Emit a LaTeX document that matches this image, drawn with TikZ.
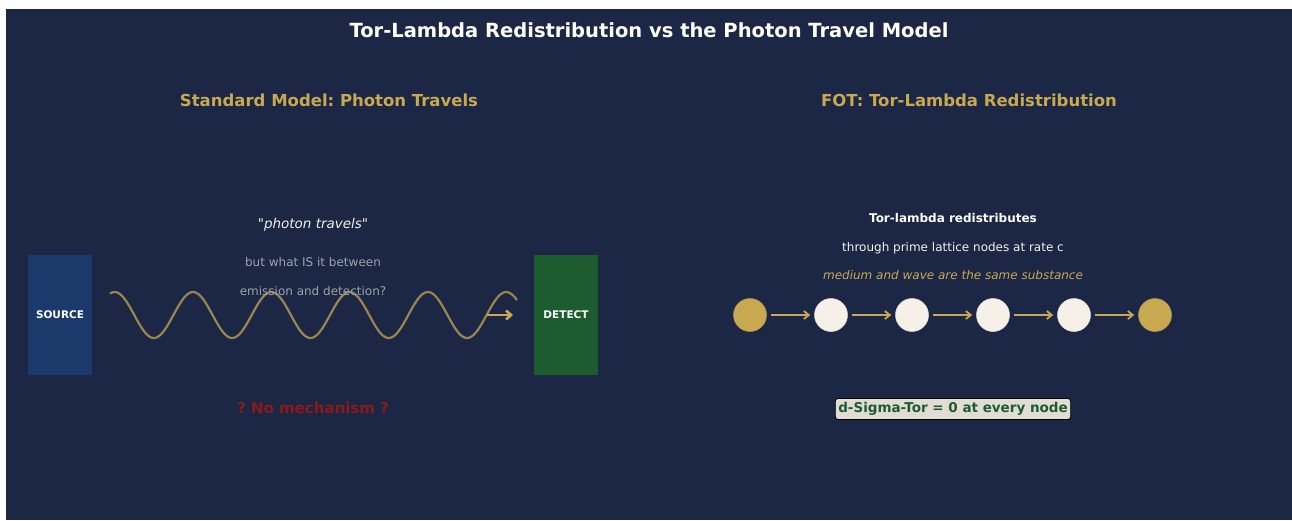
\documentclass[tikz,border=0pt]{standalone}
\usepackage{fontspec}
\setmainfont{DejaVu Sans}[Ligatures=TeXOff]
\usepackage{tikz}
\usetikzlibrary{positioning, arrows.meta}
\frenchspacing

\definecolor{navybg}{HTML}{1B2744}
\definecolor{gold}{HTML}{C8A951}
\definecolor{wavegold}{HTML}{9A8550}
\definecolor{cream}{HTML}{F5F0E8}
\definecolor{srcblue}{HTML}{1B3A6B}
\definecolor{detgreen}{HTML}{1D5C2E}
\definecolor{softgray}{HTML}{9EA1A8}
\definecolor{darkred}{HTML}{8B1A1A}
\definecolor{boxbeige}{HTML}{E1DDD4}

\begin{document}
\begin{tikzpicture}[x=1pt, y=-1pt, node distance=81pt,
  lattice node/.style={circle,draw=cream!85!gray,line width=0.5pt,fill=cream,minimum size=33pt,inner sep=0pt},
  end node/.style={lattice node,fill=gold,draw=gold!90!black},
  device/.style={minimum width=64pt,minimum height=120pt,inner sep=0pt,text=white,font=\bfseries\fontsize{10.5}{12}\selectfont},
  heading/.style={text=gold,font=\bfseries\fontsize{16.5}{19}\selectfont},
  note/.style={font=\fontsize{12}{14}\selectfont}]

\useasboundingbox (0,0) rectangle (1292,520);
\fill[white] (0,0) rectangle (1292,520);
\fill[navybg] (6,9) rectangle (1292,520);

% titles
\node[text=white,font=\bfseries\fontsize{19.5}{23}\selectfont] (title) at (649,30) {Tor-Lambda Redistribution vs the Photon Travel Model};
\node[heading] (left head) at (329,100) {Standard Model: Photon Travels};
\node[heading] (right head) at (969,100) {FOT: Tor-Lambda Redistribution};

% left panel
\node[device,fill=srcblue] (source) at (60,315) {SOURCE};
\node[device,fill=detgreen] (detect) at (566,315) {DETECT};

\draw[wavegold,line width=2.2pt] plot[domain=110:517,samples=200,smooth] (\x,{315-23*cos((\x-193)*4.5977)});

\coordinate (wave end) at (487,315);
\coordinate (wave tip) at (513,315);
\draw[gold,line width=2.6pt,-{Straight Barb[length=5pt,width=9pt]}] (wave end) -- (wave tip);

\node[note,text=cream,font=\fontsize{13.5}{15}\selectfont] (quote) at (313,225) {"\textit{photon travels}"};
\node[note,text=softgray] (doubt1) at (313,262) {but what IS it between};
\node[note,text=softgray] (doubt2) at (313,291) {emission and detection?};
\node[text=darkred,font=\bfseries\fontsize{15}{17}\selectfont] (nomech) at (313,408) {? No mechanism ?};

% right panel
\node[note,text=white,font=\bfseries\fontsize{12}{14}\selectfont] (redist) at (953,218) {Tor-lambda redistributes};
\node[note,text=cream] (through) at (953,248) {through prime lattice nodes at rate c};
\node[note,text=gold,font=\itshape\fontsize{12}{14}\selectfont] (medium) at (953,275) {medium and wave are the same substance};

\node[end node] (n0) at (750,315) {};
\node[lattice node] (n1) [right of=n0] {};
\node[lattice node] (n2) [right of=n1] {};
\node[lattice node] (n3) [right of=n2] {};
\node[lattice node] (n4) [right of=n3] {};
\node[end node] (n5) [right of=n4] {};

\path[gold,line width=1.8pt,-{Straight Barb[length=5pt,width=8pt]},shorten <=4pt,shorten >=4pt]
(n0) edge (n1)
(n1) edge (n2)
(n2) edge (n3)
(n3) edge (n4)
(n4) edge (n5)
;

\node[draw=black,line width=0.8pt,fill=boxbeige,rounded corners=3pt,inner xsep=3pt,inner ysep=4pt,
  text=detgreen,font=\bfseries\fontsize{13.5}{15}\selectfont] (invariant) at (953,409) {d-Sigma-Tor = 0 at every node};
\end{tikzpicture}
\end{document}
